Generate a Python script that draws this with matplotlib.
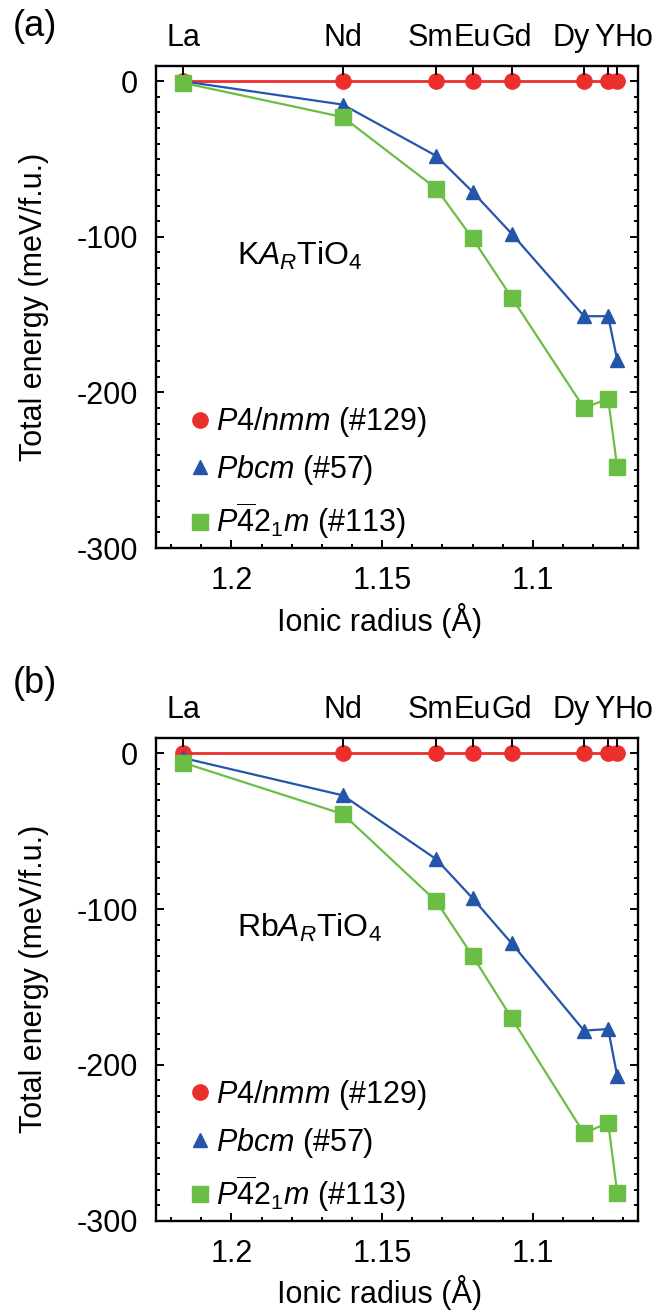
import matplotlib
matplotlib.use("Agg")
import matplotlib.pyplot as plt
import matplotlib.transforms as mtransforms
from matplotlib.lines import Line2D
from matplotlib.ticker import MultipleLocator

plt.rcParams["font.family"] = ["Liberation Sans", "DejaVu Sans"]
plt.rcParams["mathtext.fontset"] = "custom"
plt.rcParams["mathtext.rm"] = "Liberation Sans"
plt.rcParams["mathtext.it"] = "Liberation Sans:italic"
plt.rcParams["mathtext.bf"] = "Liberation Sans:bold"
plt.rcParams["axes.unicode_minus"] = False

# ===== DATA =====
elements = ["La", "Nd", "Sm", "Eu", "Gd", "Dy", "Y", "Ho"]
radii = [1.216, 1.163, 1.132, 1.120, 1.107, 1.083, 1.075, 1.072]   # ionic radius (A)

# total energy relative to P4/nmm (meV/f.u.)
k_p4nmm = [0, 0, 0, 0, 0, 0, 0, 0]
k_pbcm = [0, -15, -48, -71, -98, -151, -151, -179]
k_p421m = [-1, -23, -69, -101, -139, -210, -204, -248]

rb_p4nmm = [0, 0, 0, 0, 0, 0, 0, 0]
rb_pbcm = [-3, -27, -68, -93, -122, -178, -177, -207]
rb_p421m = [-6, -39, -95, -130, -170, -244, -237, -282]

legend_labels = [r"$P4/nmm$ (#129)", r"$Pbcm$ (#57)", r"$P\overline{4}2_1m$ (#113)"]
xtick_vals = [1.2, 1.15, 1.1]
xtick_labels = ["1.2", "1.15", "1.1"]
ytick_vals = [0, -100, -200, -300]

# ===== STYLE =====
RED = "#EC2E2D"
BLUE = "#2356A8"
GREEN = "#6BBE45"
FS = 22
# nudges (points) so the crowded element labels on top do not collide
top_label_shift = [0, 0, -4.3, 0, 0, -9.4, -2.9, 12.2]

fig = plt.figure(figsize=(6.69, 13.12), dpi=100)


def draw_panel(rect, e_p4nmm, e_pbcm, e_p421m, compound):
    ax = fig.add_axes(rect)
    ax.plot(radii, e_p4nmm, "-o", color=RED, ms=11, lw=2.0, zorder=3)
    ax.plot(radii, e_pbcm, "-^", color=BLUE, ms=10.5, lw=1.6, zorder=4)
    ax.plot(radii, e_p421m, "-s", color=GREEN, ms=12, lw=1.6, zorder=5)

    ax.set_xlim(1.225, 1.065)
    ax.set_ylim(-300, 10)
    ax.set_xticks(xtick_vals, xtick_labels)
    ax.set_yticks(ytick_vals)
    ax.xaxis.set_minor_locator(MultipleLocator(0.01))
    ax.yaxis.set_minor_locator(MultipleLocator(10))
    ax.tick_params(which="both", direction="in", top=False, right=True, width=1.4, labelsize=FS)
    ax.tick_params(which="major", length=6)
    ax.tick_params(which="minor", length=3)
    ax.tick_params(axis="x", pad=13)
    ax.tick_params(axis="y", pad=13)
    for sp in ax.spines.values():
        sp.set_linewidth(1.7)

    ax.set_xlabel("Ionic radius (Å)", fontsize=FS)
    ax.set_ylabel("Total energy (meV/f.u.)", fontsize=FS)
    ax.xaxis.set_label_coords(0.464, -0.113)
    ax.yaxis.set_label_coords(-0.222, 0.5)

    # element labels along the top
    top = ax.twiny()
    top.set_xlim(ax.get_xlim())
    top.set_xticks(radii, elements)
    top.tick_params(axis="x", direction="in", length=6.7, width=1.4, pad=9, labelsize=FS)
    for sp in top.spines.values():
        sp.set_visible(False)
    for lab, dx in zip(top.get_xticklabels(), top_label_shift):
        lab.set_transform(lab.get_transform() + mtransforms.ScaledTranslation(dx / 72, 0, fig.dpi_scale_trans))

    ax.text(0.168, 0.588, compound, transform=ax.transAxes, fontsize=23, va="baseline", ha="left")

    handles = [
        Line2D([], [], ls="none", marker="o", color=RED, ms=11),
        Line2D([], [], ls="none", marker="^", color=BLUE, ms=10.5),
        Line2D([], [], ls="none", marker="s", color=GREEN, ms=12),
    ]
    ax.legend(handles, legend_labels, loc="center left", bbox_to_anchor=(0.065, 0.155),
              frameon=False, fontsize=FS, handlelength=0.8, handletextpad=0.15,
              labelspacing=0.45, borderpad=0, borderaxespad=0)
    return ax


draw_panel([0.2332, 0.5823, 0.7209, 0.3676], k_p4nmm, k_pbcm, k_p421m, r"K$A_R$TiO$_4$")
draw_panel([0.2332, 0.0696, 0.7209, 0.3681], rb_p4nmm, rb_pbcm, rb_p421m, r"Rb$A_R$TiO$_4$")

fig.text(35 / 669, 1 - 26 / 1312, "(a)", fontsize=26, ha="center", va="center")
fig.text(35 / 669, 1 - 683 / 1312, "(b)", fontsize=26, ha="center", va="center")

fig.savefig("out.png", dpi=100)
